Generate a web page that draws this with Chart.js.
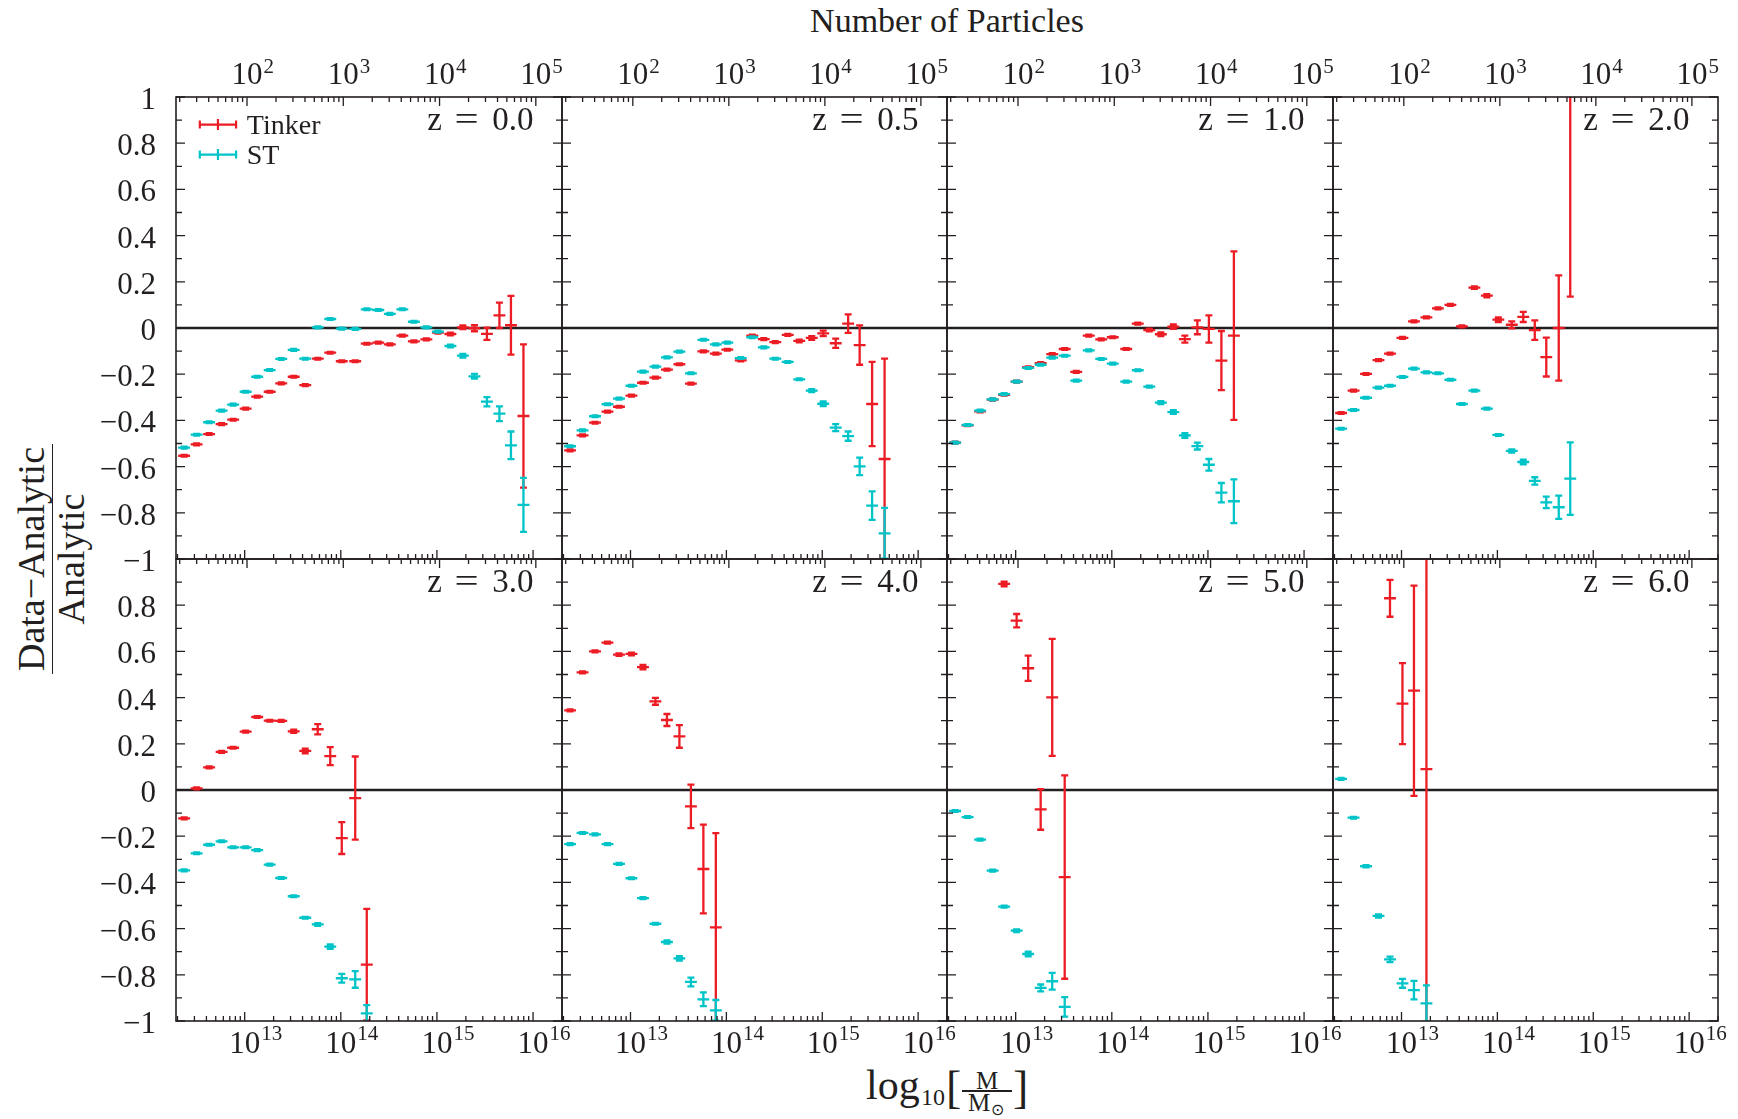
<!DOCTYPE html>
<html>
<head>
<meta charset="utf-8">
<title>Mass function residuals: Data vs Tinker and ST</title>
<script src="https://cdn.jsdelivr.net/npm/chart.js@4.4.1/dist/chart.umd.min.js"></script>
<style>
  html, body { margin:0; padding:0; background:#ffffff; }
  #fig { position:relative; width:1738px; height:1119px; overflow:hidden; background:#ffffff;
         font-family:'Liberation Serif','Times New Roman',serif; color:#231f20; }
  #fig canvas { position:absolute; }
  .txt { position:absolute; white-space:nowrap; line-height:1; }
</style>
</head>
<body>
<div id="fig">
  <div class="txt" style="left:947px;top:4px;font-size:34px;transform:translateX(-50%);">Number of Particles</div>

  <div class="txt" style="left:866px;top:1064px;font-size:42px;">log</div>
  <div class="txt" style="left:921px;top:1085px;font-size:24px;">10</div>
  <div class="txt" style="left:946px;top:1065px;font-size:46px;">[</div>
  <div class="txt" style="left:987px;top:1068px;font-size:25px;transform:translateX(-50%);">M</div>
  <div style="position:absolute;left:962px;top:1090px;width:50px;height:1.5px;background:#231f20;"></div>
  <div class="txt" style="left:968px;top:1090px;font-size:25px;">M</div>
  <div class="txt" style="left:990.5px;top:1101.6px;font-size:16px;">⊙</div>
  <div class="txt" style="left:1013px;top:1065px;font-size:46px;">]</div>

  <div class="txt" style="left:51px;top:559px;font-size:38px;text-align:center;transform:translate(-50%,-50%) rotate(-90deg);">
    <div style="padding:0 3px 2px 3px;border-bottom:1.5px solid #231f20;">Data−Analytic</div>
    <div style="margin-top:-1px;">Analytic</div>
  </div>
</div>

<script>
// ---------------- data ----------------
const SERIES_NAMES = ['Tinker', 'ST'];
const Z_LABELS = ['0.0', '0.5', '1.0', '2.0', '3.0', '4.0', '5.0', '6.0'];

// centres of the mass bins, log10(M / Msun)
const MASS_BINS_LOG10 = [12.37, 12.50, 12.63, 12.76, 12.88, 13.01, 13.13, 13.26, 13.38, 13.51,
                         13.63, 13.76, 13.89, 14.01, 14.15, 14.27, 14.39, 14.51, 14.64, 14.76,
                         14.89, 15.01, 15.14, 15.27, 15.39, 15.52, 15.65, 15.77, 15.90];
const BIN_HALF_WIDTH_DEX = 0.062;

// z = 0.0
const TINKER_Z00 = [-0.553, -0.504, -0.459, -0.416, -0.397, -0.349, -0.297, -0.276, -0.240, -0.211,
                    -0.247, -0.133, -0.107, -0.144, -0.144, -0.068, -0.063, -0.071, -0.033, -0.058,
                    -0.049, -0.020, -0.026, 0.003, -0.001, -0.025, 0.055, 0.012, -0.381];
const TINKER_Z00_ERR = [0.004, 0.004, 0.004, 0.004, 0.004, 0.004, 0.004, 0.004, 0.004, 0.004,
                        0.004, 0.004, 0.004, 0.004, 0.004, 0.004, 0.004, 0.004, 0.004, 0.004,
                        0.004, 0.004, 0.006, 0.008, 0.013, 0.026, 0.055, 0.127, 0.31];
const ST_Z00 = [-0.518, -0.462, -0.408, -0.358, -0.332, -0.276, -0.211, -0.182, -0.134, -0.095,
                -0.133, 0.003, 0.039, -0.003, -0.004, 0.081, 0.078, 0.061, 0.081, 0.027,
                0.003, -0.016, -0.078, -0.120, -0.209, -0.319, -0.371, -0.508, -0.766];
const ST_Z00_ERR = [0.004, 0.004, 0.004, 0.004, 0.004, 0.004, 0.004, 0.004, 0.004, 0.004,
                    0.004, 0.004, 0.004, 0.004, 0.004, 0.004, 0.004, 0.004, 0.004, 0.004,
                    0.004, 0.004, 0.006, 0.008, 0.010, 0.020, 0.032, 0.060, 0.117];

// z = 0.5
const TINKER_Z05 = [-0.530, -0.465, -0.410, -0.362, -0.341, -0.293, -0.237, -0.215, -0.180, -0.157,
                    -0.241, -0.101, -0.111, -0.094, -0.140, -0.033, -0.048, -0.061, -0.030, -0.056,
                    -0.043, -0.023, -0.066, 0.019, -0.074, -0.329, -0.567];
const TINKER_Z05_ERR = [0.004, 0.004, 0.004, 0.004, 0.004, 0.004, 0.004, 0.004, 0.004, 0.004,
                        0.004, 0.004, 0.004, 0.004, 0.004, 0.004, 0.004, 0.004, 0.004, 0.006,
                        0.008, 0.012, 0.020, 0.040, 0.085, 0.182, 0.434];
const ST_Z05 = [-0.512, -0.443, -0.382, -0.330, -0.306, -0.250, -0.189, -0.167, -0.127, -0.102,
                -0.196, -0.051, -0.071, -0.063, -0.130, -0.040, -0.084, -0.133, -0.147, -0.222,
                -0.271, -0.328, -0.431, -0.468, -0.599, -0.769, -0.889];
const ST_Z05_ERR = [0.004, 0.004, 0.004, 0.004, 0.004, 0.004, 0.004, 0.004, 0.004, 0.004,
                    0.004, 0.004, 0.004, 0.004, 0.004, 0.004, 0.004, 0.004, 0.004, 0.004,
                    0.006, 0.010, 0.015, 0.020, 0.038, 0.062, 0.110];

// z = 1.0
const TINKER_Z10 = [-0.496, -0.421, -0.361, -0.310, -0.289, -0.232, -0.170, -0.152, -0.113, -0.091,
                    -0.190, -0.033, -0.049, -0.040, -0.091, 0.019, -0.009, -0.027, 0.006, -0.048,
                    0.003, -0.004, -0.141, -0.033];
const TINKER_Z10_ERR = [0.004, 0.004, 0.004, 0.004, 0.004, 0.004, 0.004, 0.004, 0.004, 0.004,
                        0.004, 0.004, 0.004, 0.004, 0.004, 0.004, 0.006, 0.008, 0.010, 0.015,
                        0.030, 0.059, 0.128, 0.365];
const ST_Z10 = [-0.496, -0.420, -0.358, -0.309, -0.286, -0.232, -0.173, -0.159, -0.128, -0.120,
                -0.228, -0.097, -0.134, -0.154, -0.232, -0.183, -0.254, -0.323, -0.364, -0.465,
                -0.511, -0.592, -0.713, -0.750];
const ST_Z10_ERR = [0.004, 0.004, 0.004, 0.004, 0.004, 0.004, 0.004, 0.004, 0.004, 0.004,
                    0.004, 0.004, 0.004, 0.004, 0.004, 0.004, 0.004, 0.006, 0.008, 0.010,
                    0.015, 0.025, 0.042, 0.095];

// z = 2.0
const TINKER_Z20 = [-0.368, -0.271, -0.199, -0.139, -0.111, -0.043, 0.029, 0.046, 0.085, 0.100,
                    0.007, 0.175, 0.140, 0.036, 0.014, 0.048, -0.009, -0.126, 0.000, 1.200];
const TINKER_Z20_ERR = [0.004, 0.004, 0.004, 0.004, 0.004, 0.004, 0.004, 0.004, 0.004, 0.004,
                        0.004, 0.005, 0.007, 0.010, 0.015, 0.022, 0.042, 0.084, 0.228, 1.064];
const ST_Z20 = [-0.436, -0.355, -0.302, -0.258, -0.250, -0.212, -0.176, -0.192, -0.196, -0.224,
                -0.329, -0.271, -0.349, -0.463, -0.532, -0.580, -0.662, -0.755, -0.776, -0.652];
const ST_Z20_ERR = [0.004, 0.004, 0.004, 0.004, 0.004, 0.004, 0.004, 0.004, 0.004, 0.004,
                    0.004, 0.004, 0.004, 0.004, 0.007, 0.010, 0.016, 0.025, 0.050, 0.157];

// z = 3.0
const TINKER_Z30 = [-0.123, 0.007, 0.098, 0.165, 0.183, 0.253, 0.316, 0.300, 0.299, 0.254,
                    0.169, 0.263, 0.147, -0.208, -0.035, -0.756];
const TINKER_Z30_ERR = [0.004, 0.004, 0.004, 0.004, 0.004, 0.004, 0.004, 0.004, 0.004, 0.007,
                        0.010, 0.022, 0.039, 0.069, 0.180, 0.241];
const ST_Z30 = [-0.348, -0.274, -0.237, -0.222, -0.248, -0.248, -0.260, -0.323, -0.381, -0.460,
                -0.553, -0.582, -0.678, -0.815, -0.820, -0.967];
const ST_Z30_ERR = [0.004, 0.004, 0.004, 0.004, 0.004, 0.004, 0.004, 0.004, 0.004, 0.004,
                    0.004, 0.006, 0.010, 0.019, 0.036, 0.036];

// z = 4.0
const TINKER_Z40 = [0.345, 0.509, 0.600, 0.638, 0.586, 0.589, 0.532, 0.384, 0.303, 0.232,
                    -0.071, -0.342, -0.595];
const TINKER_Z40_ERR = [0.004, 0.004, 0.004, 0.004, 0.005, 0.006, 0.010, 0.015, 0.026, 0.049,
                        0.094, 0.192, 0.408];
const ST_Z40 = [-0.234, -0.186, -0.192, -0.234, -0.320, -0.382, -0.468, -0.579, -0.658, -0.729,
                -0.831, -0.906, -0.954];
const ST_Z40_ERR = [0.004, 0.004, 0.004, 0.004, 0.004, 0.004, 0.004, 0.004, 0.007, 0.010,
                    0.019, 0.030, 0.045];

// z = 5.0 (low-mass Tinker points lie above the plotted range)
const TINKER_Z50 = [null, null, null, null, 0.892, 0.733, 0.527, -0.084, 0.401, -0.377];
const TINKER_Z50_ERR = [null, null, null, null, 0.010, 0.029, 0.055, 0.088, 0.253, 0.440];
const ST_Z50 = [-0.091, -0.117, -0.215, -0.349, -0.505, -0.609, -0.710, -0.857, -0.828, -0.939];
const ST_Z50_ERR = [0.004, 0.004, 0.004, 0.004, 0.004, 0.006, 0.010, 0.015, 0.036, 0.042];

// z = 6.0
const TINKER_Z60 = [null, null, null, null, 0.830, 0.374, 0.430, 0.090];
const TINKER_Z60_ERR = [null, null, null, null, 0.080, 0.175, 0.455, 1.200];
const ST_Z60 = [0.048, -0.120, -0.330, -0.545, -0.733, -0.837, -0.866, -0.924];
const ST_Z60_ERR = [0.004, 0.004, 0.005, 0.007, 0.012, 0.019, 0.040, 0.078];

// axes
const MASS_RANGE = [1.93e12, 2.0e16];        // bottom axis, M / Msun
const PARTICLE_RANGE = [18.3, 1.87e5];        // top axis, number of particles
const MASS_TICK_EXPONENTS = [13, 14, 15, 16];
const PARTICLE_TICK_EXPONENTS = [2, 3, 4, 5];
const Y_RANGE = [-1, 1];
const Y_TICKS = [1, 0.8, 0.6, 0.4, 0.2, 0, -0.2, -0.4, -0.6, -0.8, -1];
const Y_TICK_LABELS = ['1', '0.8', '0.6', '0.4', '0.2', '0', '−0.2', '−0.4', '−0.6', '−0.8', '−1'];

// ---------------- style / layout ----------------
const INK = '#231f20';
const FONT = "'Liberation Serif', 'Times New Roman', serif";
const COLORS = ['#ec1c24', '#00c4c8'];
const COL_X = [176, 562, 947, 1333];
const COL_W = [386, 385, 386, 385];
const ROW_Y = [97, 559];
const ROW_H = 462;
const M = 110;

const PANELS = [
  [TINKER_Z00, TINKER_Z00_ERR, ST_Z00, ST_Z00_ERR],
  [TINKER_Z05, TINKER_Z05_ERR, ST_Z05, ST_Z05_ERR],
  [TINKER_Z10, TINKER_Z10_ERR, ST_Z10, ST_Z10_ERR],
  [TINKER_Z20, TINKER_Z20_ERR, ST_Z20, ST_Z20_ERR],
  [TINKER_Z30, TINKER_Z30_ERR, ST_Z30, ST_Z30_ERR],
  [TINKER_Z40, TINKER_Z40_ERR, ST_Z40, ST_Z40_ERR],
  [TINKER_Z50, TINKER_Z50_ERR, ST_Z50, ST_Z50_ERR],
  [TINKER_Z60, TINKER_Z60_ERR, ST_Z60, ST_Z60_ERR]
];

function toPoints(vals, errs) {
  const pts = [];
  vals.forEach((v, i) => {
    if (v !== null) pts.push({ x: Math.pow(10, MASS_BINS_LOG10[i]), y: v, e: errs[i] });
  });
  return pts;
}

function drawPow(ctx, x, baseY, supY, exp) {
  ctx.fillStyle = INK;
  ctx.textBaseline = 'alphabetic';
  ctx.font = '31px ' + FONT;
  ctx.textAlign = 'center';
  ctx.fillText('10', x, baseY);
  const w = ctx.measureText('10').width;
  ctx.font = '21px ' + FONT;
  ctx.textAlign = 'left';
  ctx.fillText(String(exp), x + w / 2 + 1, supY);
}

function logTicks(scale, range, len, edgeY, dir, ctx) {
  const e0 = Math.floor(Math.log10(range[0])), e1 = Math.ceil(Math.log10(range[1]));
  for (let e = e0; e <= e1; e++) {
    for (let k = 1; k <= 9; k++) {
      const v = k * Math.pow(10, e);
      if (v < range[0] || v > range[1]) continue;
      const px = scale.getPixelForValue(v);
      const l = k === 1 ? len[0] : len[1];
      ctx.moveTo(px, edgeY); ctx.lineTo(px, edgeY + dir * l);
    }
  }
}

const decorPlugin = {
  id: 'decor',
  beforeDatasetsDraw(chart) {
    const { ctx, chartArea: a, scales } = chart;
    const y0 = scales.y.getPixelForValue(0);
    ctx.save();
    ctx.strokeStyle = INK; ctx.lineWidth = 2.4;
    ctx.beginPath(); ctx.moveTo(a.left, y0); ctx.lineTo(a.right, y0); ctx.stroke();
    ctx.restore();
  },
  afterDatasetsDraw(chart) {
    const { ctx, chartArea: a, scales } = chart;
    const xs = scales.x, ys = scales.y;
    ctx.save();
    ctx.beginPath(); ctx.rect(a.left, a.top, a.right - a.left, a.bottom - a.top); ctx.clip();
    chart.data.datasets.forEach(ds => {
      ctx.strokeStyle = ds.borderColor; ctx.lineWidth = 2.3; ctx.lineCap = 'butt';
      ds.data.forEach(p => {
        const lg = Math.log10(p.x);
        const px = xs.getPixelForValue(p.x), py = ys.getPixelForValue(p.y);
        const xl = xs.getPixelForValue(Math.pow(10, lg - BIN_HALF_WIDTH_DEX));
        const xr = xs.getPixelForValue(Math.pow(10, lg + BIN_HALF_WIDTH_DEX));
        const yt = ys.getPixelForValue(p.y + p.e), yb = ys.getPixelForValue(p.y - p.e);
        ctx.beginPath();
        ctx.moveTo(xl, py); ctx.lineTo(xr, py);
        ctx.moveTo(px, yt); ctx.lineTo(px, yb);
        ctx.moveTo(px - 3.5, yt); ctx.lineTo(px + 3.5, yt);
        ctx.moveTo(px - 3.5, yb); ctx.lineTo(px + 3.5, yb);
        ctx.stroke();
      });
    });
    ctx.restore();
  },
  afterDraw(chart, args, opts) {
    const { ctx, chartArea: a, scales } = chart;
    const xs = scales.x, x2 = scales.x2, ys = scales.y;
    ctx.save();
    // ticks (inward)
    ctx.strokeStyle = INK; ctx.lineWidth = 1.3;
    ctx.beginPath();
    for (let i = 0; i < Y_TICKS.length; i++) {
      const py = ys.getPixelForValue(Y_TICKS[i]);
      ctx.moveTo(a.left, py); ctx.lineTo(a.left + 9, py);
      ctx.moveTo(a.right, py); ctx.lineTo(a.right - 9, py);
      if (i < Y_TICKS.length - 1) {
        const pm = ys.getPixelForValue((Y_TICKS[i] + Y_TICKS[i + 1]) / 2);
        ctx.moveTo(a.left, pm); ctx.lineTo(a.left + 6, pm);
        ctx.moveTo(a.right, pm); ctx.lineTo(a.right - 6, pm);
      }
    }
    logTicks(xs, MASS_RANGE, [9, 5], a.bottom, -1, ctx);
    logTicks(x2, PARTICLE_RANGE, [9, 5], a.top, 1, ctx);
    ctx.stroke();
    // frame
    ctx.lineWidth = 1.6;
    ctx.strokeRect(a.left, a.top, a.right - a.left, a.bottom - a.top);

    // y labels
    ctx.fillStyle = INK;
    if (opts.col === 0) {
      ctx.font = '31px ' + FONT; ctx.textAlign = 'right'; ctx.textBaseline = 'alphabetic';
      Y_TICKS.forEach((v, i) => {
        if (opts.row === 1 && v === Y_RANGE[1]) return;
        ctx.fillText(Y_TICK_LABELS[i], a.left - 20, ys.getPixelForValue(v) + 12);
      });
    }
    // x labels
    if (opts.row === 1) {
      MASS_TICK_EXPONENTS.forEach(e => drawPow(ctx, xs.getPixelForValue(Math.pow(10, e)), a.bottom + 32, a.bottom + 19, e));
    } else {
      PARTICLE_TICK_EXPONENTS.forEach(e => drawPow(ctx, x2.getPixelForValue(Math.pow(10, e)), a.top - 13.4, a.top - 24, e));
    }
    // redshift label
    ctx.fillStyle = INK; ctx.textBaseline = 'alphabetic';
    ctx.font = '33px ' + FONT;
    const by = a.top + 32.6;
    ctx.textAlign = 'left'; ctx.fillText('z', a.right - 134.8, by);
    ctx.save();
    ctx.translate(a.right - 95.3, by); ctx.scale(1.3, 1);
    ctx.textAlign = 'center'; ctx.fillText('=', 0, 0);
    ctx.restore();
    ctx.textAlign = 'right'; ctx.fillText(opts.z, a.right - 28.5, by);

    // legend
    if (opts.legend) {
      chart.data.datasets.forEach((ds, i) => {
        const cy = a.top + 27.6 + 30 * i;
        const x0 = a.left + 23.8, x1 = a.left + 60.1, xc = (x0 + x1) / 2;
        ctx.strokeStyle = ds.borderColor; ctx.lineWidth = 2.2;
        ctx.beginPath();
        ctx.moveTo(x0, cy); ctx.lineTo(x1, cy);
        ctx.moveTo(x0, cy - 4); ctx.lineTo(x0, cy + 4);
        ctx.moveTo(x1, cy - 4); ctx.lineTo(x1, cy + 4);
        ctx.moveTo(xc, cy - 5.5); ctx.lineTo(xc, cy + 5.5);
        ctx.stroke();
        ctx.fillStyle = INK; ctx.font = '28px ' + FONT; ctx.textAlign = 'left';
        ctx.fillText(ds.label, a.left + 70.8, cy + 9);
      });
    }
    ctx.restore();
  }
};

const fig = document.getElementById('fig');
PANELS.forEach((p, idx) => {
  const col = idx % 4, row = Math.floor(idx / 4);
  const pw = COL_W[col], ph = ROW_H;
  const cv = document.createElement('canvas');
  cv.width = pw + 2 * M; cv.height = ph + 2 * M;
  cv.style.width = cv.width + 'px'; cv.style.height = cv.height + 'px';
  cv.style.left = (COL_X[col] - M) + 'px'; cv.style.top = (ROW_Y[row] - M) + 'px';
  fig.appendChild(cv);
  const hidden = { ticks: { display: false }, grid: { display: false }, border: { display: false } };
  new Chart(cv, {
    type: 'scatter',
    data: {
      datasets: [
        { label: SERIES_NAMES[0], data: toPoints(p[0], p[1]), borderColor: COLORS[0], backgroundColor: COLORS[0], pointRadius: 0, showLine: false },
        { label: SERIES_NAMES[1], data: toPoints(p[2], p[3]), borderColor: COLORS[1], backgroundColor: COLORS[1], pointRadius: 0, showLine: false }
      ]
    },
    options: {
      responsive: false, maintainAspectRatio: false, animation: false, events: [],
      layout: { padding: { left: 0, top: 0, bottom: 0, right: M } },
      plugins: {
        legend: { display: false }, tooltip: { enabled: false },
        decor: { col: col, row: row, z: Z_LABELS[idx], legend: idx === 0 }
      },
      scales: {
        x: Object.assign({ type: 'logarithmic', position: 'bottom', bounds: 'data', min: MASS_RANGE[0], max: MASS_RANGE[1],
             afterFit(s) { s.height = M; } }, hidden),
        x2: Object.assign({ type: 'logarithmic', axis: 'x', position: 'top', bounds: 'data', min: PARTICLE_RANGE[0], max: PARTICLE_RANGE[1],
             afterFit(s) { s.height = M; } }, hidden),
        y: Object.assign({ type: 'linear', position: 'left', min: Y_RANGE[0], max: Y_RANGE[1],
             afterFit(s) { s.width = M; } }, hidden)
      }
    },
    plugins: [decorPlugin]
  });
});
</script>
</body>
</html>
